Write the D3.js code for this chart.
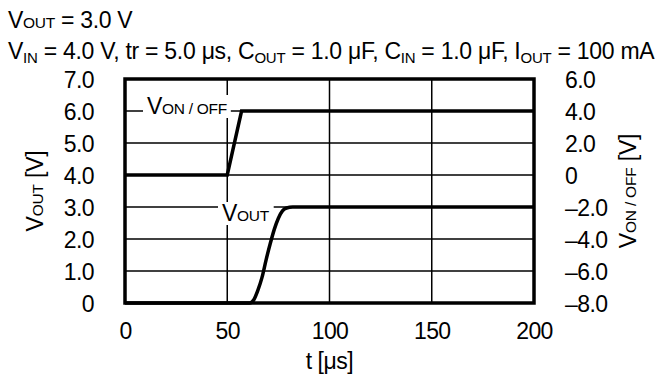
<!DOCTYPE html>
<html><head><meta charset="utf-8">
<script src="https://cdn.jsdelivr.net/npm/d3@7"></script>
<style>body{margin:0;background:#fff}svg{display:block;font-family:"Liberation Sans",Arial,sans-serif}</style>
</head><body>
<svg id="c" width="660" height="380"></svg>
<script>
const xTicks = [0, 50, 100, 150, 200];
const yLeftTicks = [0, 1, 2, 3, 4, 5, 6, 7];
const yLeftLabels = ["0", "1.0", "2.0", "3.0", "4.0", "5.0", "6.0", "7.0"];
const yRightTicks = [-8, -6, -4, -2, 0, 2, 4, 6];
const yRightLabels = ["–8.0", "–6.0", "–4.0", "–2.0", "0", "2.0", "4.0", "6.0"];
const vonT = [0, 50, 57, 200];
const vonV = [0, 0, 4, 4];
const voutT = [0, 61, 63, 65, 67, 69, 71, 73, 75, 77, 79, 82, 200];
const voutV = [0, 0, 0.1, 0.4, 0.8, 1.35, 1.85, 2.3, 2.65, 2.88, 2.97, 3.0, 3.0];

const svg = d3.select("#c");
const FS = 23, SM = 15.5;
const x = d3.scaleLinear().domain([0, 200]).range([125, 534]);
const yL = d3.scaleLinear().domain([0, 7]).range([303, 79]);
const yR = d3.scaleLinear().domain([-8, 6]).range([303, 79]);

// gridlines
const g = svg.append("g").attr("stroke", "#000").attr("stroke-width", 1.5);
yLeftTicks.slice(1, -1).forEach(v => g.append("line").attr("x1", x(0)).attr("x2", x(200)).attr("y1", yL(v)).attr("y2", yL(v)));
xTicks.slice(1, -1).forEach(v => g.append("line").attr("x1", x(v)).attr("x2", x(v)).attr("y1", yL(0)).attr("y2", yL(7)));

function smallCapsLabel(parent, xx, yy, big, small, anchor) {
  const t = parent.append("text").attr("x", xx).attr("y", yy).attr("font-size", FS).attr("text-anchor", anchor || "start").attr("letter-spacing", -0.3);
  t.append("tspan").text(big);
  t.append("tspan").attr("font-size", SM).text(small);
  return t;
}
const lbl = svg.append("g");
function boxed(xx, yy, big, small) {
  const gg = lbl.append("g");
  const r = gg.append("rect").attr("fill", "#fff");
  const t = smallCapsLabel(gg, xx, yy, big, small);
  const b = t.node().getBBox();
  r.attr("x", b.x - 4).attr("y", b.y + 2).attr("width", b.width + 8).attr("height", b.height - 3);
}
boxed(147, yL(6) + 3, "V", "ON / OFF");
boxed(222, yL(3) + 14, "V", "OUT");

// data lines
svg.append("path").datum(vonT.map((t, i) => [t, vonV[i]]))
  .attr("d", d3.line().x(d => x(d[0])).y(d => yR(d[1])))
  .attr("fill", "none").attr("stroke", "#000").attr("stroke-width", 3.5).attr("stroke-linejoin", "miter");
svg.append("path").datum(voutT.map((t, i) => [t, voutV[i]]))
  .attr("d", d3.line().x(d => x(d[0])).y(d => yL(d[1])).curve(d3.curveMonotoneX))
  .attr("fill", "none").attr("stroke", "#000").attr("stroke-width", 3.5);

// frame
svg.append("rect").attr("x", x(0)).attr("y", yL(7)).attr("width", x(200) - x(0)).attr("height", yL(0) - yL(7))
  .attr("fill", "none").attr("stroke", "#000").attr("stroke-width", 3.5);

// axes
const ax = svg.append("g").attr("transform", `translate(0,${yL(0) + 12})`)
  .call(d3.axisBottom(x).tickValues(xTicks).tickSize(0).tickFormat(d3.format("d")));
const ayL = svg.append("g").attr("transform", `translate(${x(0) - 28},0)`)
  .call(d3.axisLeft(yL).tickValues(yLeftTicks).tickSize(0).tickFormat((d, i) => yLeftLabels[i]));
const ayR = svg.append("g").attr("transform", `translate(${x(200) + 28},0)`)
  .call(d3.axisRight(yR).tickValues(yRightTicks).tickSize(0).tickFormat((d, i) => yRightLabels[i]));
[ax, ayL, ayR].forEach(a => {
  a.select(".domain").remove();
  a.selectAll("text").attr("font-size", FS).attr("font-family", "Liberation Sans, Arial, sans-serif").attr("fill", "#000").attr("letter-spacing", -0.6);
});
ayL.selectAll("text").attr("dy", "0.36em");
ayR.selectAll("text").attr("dy", "0.36em");
ax.selectAll("text").attr("dy", "0.9em");

// axis titles
svg.append("text").attr("x", x(100)).attr("y", 369).attr("text-anchor", "middle").attr("font-size", FS).attr("letter-spacing", -0.5).text("t [μs]");
const lt = svg.append("text").attr("transform", `translate(43,${yL(3.5)}) rotate(-90)`).attr("text-anchor", "middle").attr("font-size", FS).attr("letter-spacing", -0.2);
lt.append("tspan").text("V"); lt.append("tspan").attr("font-size", SM).text("OUT"); lt.append("tspan").text(" [V]");
const rt = svg.append("text").attr("transform", `translate(636,${yL(3.5)}) rotate(-90)`).attr("text-anchor", "middle").attr("font-size", FS).attr("letter-spacing", -0.2);
rt.append("tspan").text("V"); rt.append("tspan").attr("font-size", SM).text("ON / OFF"); rt.append("tspan").text(" [V]");

// header
const h1 = svg.append("text").attr("x", 8).attr("y", 28).attr("font-size", FS).attr("letter-spacing", -0.3);
h1.append("tspan").text("V"); h1.append("tspan").attr("font-size", SM).text("OUT"); h1.append("tspan").text(" = 3.0 V");
const h2 = svg.append("text").attr("x", 8).attr("y", 59).attr("font-size", FS).attr("letter-spacing", -0.27);
const parts = [["V",""],["IN","s"],[" = 4.0 V, tr = 5.0 μs, C",""],["OUT","s"],[" = 1.0 μF, C",""],["IN","s"],[" = 1.0 μF, I",""],["OUT","s"],[" = 100 mA",""]];
let sub = false;
parts.forEach(([s, k]) => {
  const ts = h2.append("tspan").text(s);
  if (k === "s") { ts.attr("font-size", 15).attr("dy", sub ? 0 : 4); sub = true; }
  else { if (sub) ts.attr("dy", -4); sub = false; }
});
</script>
</body></html>
